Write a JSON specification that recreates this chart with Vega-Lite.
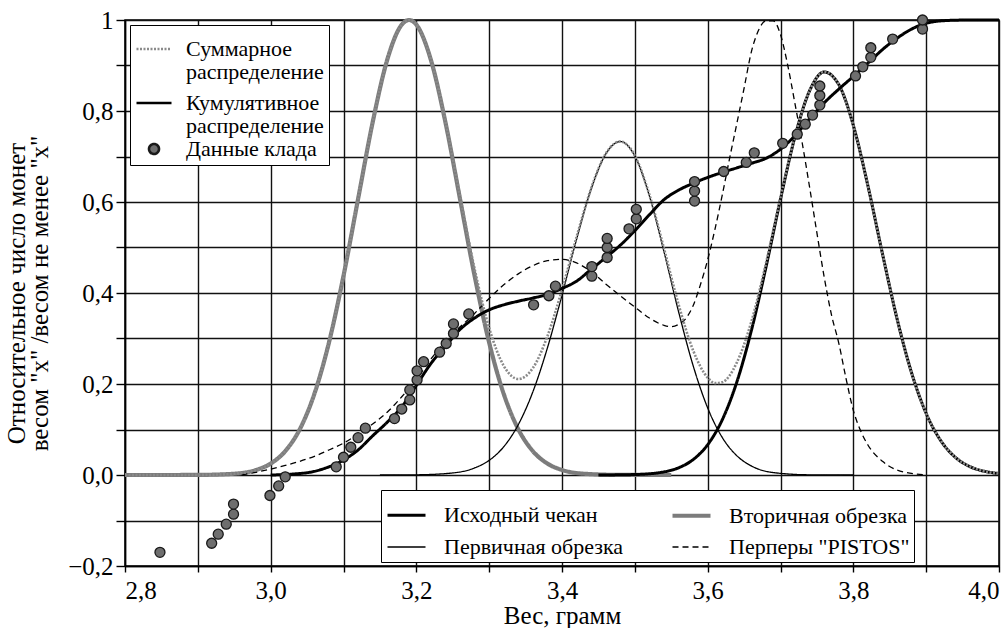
{
  "$schema": "https://vega.github.io/schema/vega-lite/v6.json",
  "width": 874,
  "height": 546,
  "autosize": {"type": "none"},
  "padding": {"left": 125, "top": 20, "right": 6, "bottom": 62},
  "background": "white",
  "config": {
    "font": "Liberation Serif, Times New Roman, serif",
    "view": {"stroke": "black", "strokeWidth": 1.5},
    "axis": {
      "labelFont": "Liberation Serif, Times New Roman, serif", "titleFont": "Liberation Serif, Times New Roman, serif",
      "labelFontSize": 25, "titleFontSize": 25, "titleFontWeight": "normal",
      "labelColor": "black", "titleColor": "black",
      "gridColor": "#111111", "gridWidth": 1.4, "gridOpacity": 1,
      "domainColor": "black", "domainWidth": 1.5, "tickColor": "black", "tickWidth": 1.4
    },
    "legend": {"labelFont": "Liberation Serif, Times New Roman, serif", "labelFontSize": 22, "labelColor": "black"}
  },
  "datasets": {
    "curves": [
      {"w": 2.80, "v": 0, "s": "Вторичная обрезка"},
      {"w": 2.85, "v": 0, "s": "Вторичная обрезка"},
      {"w": 2.90, "v": 0.0002, "s": "Вторичная обрезка"},
      {"w": 2.95, "v": 0.0028, "s": "Вторичная обрезка"},
      {"w": 2.98, "v": 0.0111, "s": "Вторичная обрезка"},
      {"w": 3.00, "v": 0.0251, "s": "Вторичная обрезка"},
      {"w": 3.02, "v": 0.0524, "s": "Вторичная обрезка"},
      {"w": 3.04, "v": 0.1007, "s": "Вторичная обрезка"},
      {"w": 3.06, "v": 0.1783, "s": "Вторичная обрезка"},
      {"w": 3.08, "v": 0.2909, "s": "Вторичная обрезка"},
      {"w": 3.10, "v": 0.4376, "s": "Вторичная обрезка"},
      {"w": 3.12, "v": 0.6065, "s": "Вторичная обрезка"},
      {"w": 3.14, "v": 0.7748, "s": "Вторичная обрезка"},
      {"w": 3.16, "v": 0.9123, "s": "Вторичная обрезка"},
      {"w": 3.18, "v": 0.9898, "s": "Вторичная обрезка"},
      {"w": 3.19, "v": 1.0, "s": "Вторичная обрезка"},
      {"w": 3.20, "v": 0.9898, "s": "Вторичная обрезка"},
      {"w": 3.22, "v": 0.9123, "s": "Вторичная обрезка"},
      {"w": 3.24, "v": 0.7748, "s": "Вторичная обрезка"},
      {"w": 3.26, "v": 0.6065, "s": "Вторичная обрезка"},
      {"w": 3.28, "v": 0.4376, "s": "Вторичная обрезка"},
      {"w": 3.30, "v": 0.2909, "s": "Вторичная обрезка"},
      {"w": 3.32, "v": 0.1783, "s": "Вторичная обрезка"},
      {"w": 3.34, "v": 0.1007, "s": "Вторичная обрезка"},
      {"w": 3.36, "v": 0.0524, "s": "Вторичная обрезка"},
      {"w": 3.38, "v": 0.0251, "s": "Вторичная обрезка"},
      {"w": 3.40, "v": 0.0111, "s": "Вторичная обрезка"},
      {"w": 3.43, "v": 0.0028, "s": "Вторичная обрезка"},
      {"w": 3.48, "v": 0.0002, "s": "Вторичная обрезка"},
      {"w": 3.55, "v": 0, "s": "Вторичная обрезка"},

      {"w": 3.15, "v": 0, "s": "Первичная обрезка"},
      {"w": 3.20, "v": 0.0004, "s": "Первичная обрезка"},
      {"w": 3.25, "v": 0.0045, "s": "Первичная обрезка"},
      {"w": 3.28, "v": 0.0155, "s": "Первичная обрезка"},
      {"w": 3.30, "v": 0.0322, "s": "Первичная обрезка"},
      {"w": 3.32, "v": 0.0621, "s": "Первичная обрезка"},
      {"w": 3.34, "v": 0.1107, "s": "Первичная обрезка"},
      {"w": 3.36, "v": 0.1828, "s": "Первичная обрезка"},
      {"w": 3.38, "v": 0.2794, "s": "Первичная обрезка"},
      {"w": 3.40, "v": 0.3954, "s": "Первичная обрезка"},
      {"w": 3.42, "v": 0.518, "s": "Первичная обрезка"},
      {"w": 3.44, "v": 0.6282, "s": "Первичная обрезка"},
      {"w": 3.46, "v": 0.7052, "s": "Первичная обрезка"},
      {"w": 3.48, "v": 0.733, "s": "Первичная обрезка"},
      {"w": 3.50, "v": 0.701, "s": "Первичная обрезка"},
      {"w": 3.52, "v": 0.6134, "s": "Первичная обрезка"},
      {"w": 3.54, "v": 0.4909, "s": "Первичная обрезка"},
      {"w": 3.56, "v": 0.3593, "s": "Первичная обрезка"},
      {"w": 3.58, "v": 0.2406, "s": "Первичная обрезка"},
      {"w": 3.60, "v": 0.1474, "s": "Первичная обрезка"},
      {"w": 3.62, "v": 0.0826, "s": "Первичная обрезка"},
      {"w": 3.64, "v": 0.0424, "s": "Первичная обрезка"},
      {"w": 3.66, "v": 0.0199, "s": "Первичная обрезка"},
      {"w": 3.69, "v": 0.0054, "s": "Первичная обрезка"},
      {"w": 3.74, "v": 0.0004, "s": "Первичная обрезка"},
      {"w": 3.80, "v": 0, "s": "Первичная обрезка"},

      {"w": 3.45, "v": 0, "s": "Исходный чекан"},
      {"w": 3.50, "v": 0.001, "s": "Исходный чекан"},
      {"w": 3.54, "v": 0.0069, "s": "Исходный чекан"},
      {"w": 3.56, "v": 0.0158, "s": "Исходный чекан"},
      {"w": 3.58, "v": 0.0338, "s": "Исходный чекан"},
      {"w": 3.60, "v": 0.0666, "s": "Исходный чекан"},
      {"w": 3.62, "v": 0.1212, "s": "Исходный чекан"},
      {"w": 3.64, "v": 0.2041, "s": "Исходный чекан"},
      {"w": 3.66, "v": 0.3175, "s": "Исходный чекан"},
      {"w": 3.68, "v": 0.4565, "s": "Исходный чекан"},
      {"w": 3.70, "v": 0.6065, "s": "Исходный чекан"},
      {"w": 3.72, "v": 0.7445, "s": "Исходный чекан"},
      {"w": 3.74, "v": 0.8447, "s": "Исходный чекан"},
      {"w": 3.76, "v": 0.8857, "s": "Исходный чекан"},
      {"w": 3.78, "v": 0.8581, "s": "Исходный чекан"},
      {"w": 3.80, "v": 0.7684, "s": "Исходный чекан"},
      {"w": 3.82, "v": 0.6358, "s": "Исходный чекан"},
      {"w": 3.84, "v": 0.4862, "s": "Исходный чекан"},
      {"w": 3.86, "v": 0.3436, "s": "Исходный чекан"},
      {"w": 3.88, "v": 0.2244, "s": "Исходный чекан"},
      {"w": 3.90, "v": 0.1354, "s": "Исходный чекан"},
      {"w": 3.92, "v": 0.0756, "s": "Исходный чекан"},
      {"w": 3.94, "v": 0.0389, "s": "Исходный чекан"},
      {"w": 3.96, "v": 0.0185, "s": "Исходный чекан"},
      {"w": 3.98, "v": 0.0082, "s": "Исходный чекан"},
      {"w": 4.00, "v": 0.0033, "s": "Исходный чекан"},

      {"w": 2.96, "v": 0, "s": "Перперы \"PISTOS\""},
      {"w": 2.98, "v": 0.006, "s": "Перперы \"PISTOS\""},
      {"w": 3.00, "v": 0.013, "s": "Перперы \"PISTOS\""},
      {"w": 3.02, "v": 0.021, "s": "Перперы \"PISTOS\""},
      {"w": 3.04, "v": 0.03, "s": "Перперы \"PISTOS\""},
      {"w": 3.06, "v": 0.041, "s": "Перперы \"PISTOS\""},
      {"w": 3.08, "v": 0.055, "s": "Перперы \"PISTOS\""},
      {"w": 3.10, "v": 0.07, "s": "Перперы \"PISTOS\""},
      {"w": 3.12, "v": 0.09, "s": "Перперы \"PISTOS\""},
      {"w": 3.14, "v": 0.112, "s": "Перперы \"PISTOS\""},
      {"w": 3.16, "v": 0.138, "s": "Перперы \"PISTOS\""},
      {"w": 3.18, "v": 0.172, "s": "Перперы \"PISTOS\""},
      {"w": 3.20, "v": 0.21, "s": "Перперы \"PISTOS\""},
      {"w": 3.22, "v": 0.255, "s": "Перперы \"PISTOS\""},
      {"w": 3.25, "v": 0.31, "s": "Перперы \"PISTOS\""},
      {"w": 3.28, "v": 0.355, "s": "Перперы \"PISTOS\""},
      {"w": 3.30, "v": 0.388, "s": "Перперы \"PISTOS\""},
      {"w": 3.32, "v": 0.418, "s": "Перперы \"PISTOS\""},
      {"w": 3.34, "v": 0.442, "s": "Перперы \"PISTOS\""},
      {"w": 3.36, "v": 0.46, "s": "Перперы \"PISTOS\""},
      {"w": 3.38, "v": 0.471, "s": "Перперы \"PISTOS\""},
      {"w": 3.40, "v": 0.474, "s": "Перперы \"PISTOS\""},
      {"w": 3.42, "v": 0.466, "s": "Перперы \"PISTOS\""},
      {"w": 3.44, "v": 0.447, "s": "Перперы \"PISTOS\""},
      {"w": 3.46, "v": 0.42, "s": "Перперы \"PISTOS\""},
      {"w": 3.48, "v": 0.394, "s": "Перперы \"PISTOS\""},
      {"w": 3.50, "v": 0.369, "s": "Перперы \"PISTOS\""},
      {"w": 3.52, "v": 0.345, "s": "Перперы \"PISTOS\""},
      {"w": 3.54, "v": 0.329, "s": "Перперы \"PISTOS\""},
      {"w": 3.55, "v": 0.326, "s": "Перперы \"PISTOS\""},
      {"w": 3.56, "v": 0.331, "s": "Перперы \"PISTOS\""},
      {"w": 3.57, "v": 0.344, "s": "Перперы \"PISTOS\""},
      {"w": 3.58, "v": 0.372, "s": "Перперы \"PISTOS\""},
      {"w": 3.59, "v": 0.418, "s": "Перперы \"PISTOS\""},
      {"w": 3.60, "v": 0.473, "s": "Перперы \"PISTOS\""},
      {"w": 3.61, "v": 0.54, "s": "Перперы \"PISTOS\""},
      {"w": 3.62, "v": 0.615, "s": "Перперы \"PISTOS\""},
      {"w": 3.63, "v": 0.695, "s": "Перперы \"PISTOS\""},
      {"w": 3.64, "v": 0.772, "s": "Перперы \"PISTOS\""},
      {"w": 3.65, "v": 0.85, "s": "Перперы \"PISTOS\""},
      {"w": 3.66, "v": 0.93, "s": "Перперы \"PISTOS\""},
      {"w": 3.67, "v": 0.978, "s": "Перперы \"PISTOS\""},
      {"w": 3.68, "v": 0.998, "s": "Перперы \"PISTOS\""},
      {"w": 3.69, "v": 0.998, "s": "Перперы \"PISTOS\""},
      {"w": 3.70, "v": 0.968, "s": "Перперы \"PISTOS\""},
      {"w": 3.71, "v": 0.9, "s": "Перперы \"PISTOS\""},
      {"w": 3.72, "v": 0.815, "s": "Перперы \"PISTOS\""},
      {"w": 3.73, "v": 0.728, "s": "Перперы \"PISTOS\""},
      {"w": 3.74, "v": 0.632, "s": "Перперы \"PISTOS\""},
      {"w": 3.75, "v": 0.532, "s": "Перперы \"PISTOS\""},
      {"w": 3.76, "v": 0.435, "s": "Перперы \"PISTOS\""},
      {"w": 3.77, "v": 0.352, "s": "Перперы \"PISTOS\""},
      {"w": 3.78, "v": 0.29, "s": "Перперы \"PISTOS\""},
      {"w": 3.79, "v": 0.212, "s": "Перперы \"PISTOS\""},
      {"w": 3.80, "v": 0.142, "s": "Перперы \"PISTOS\""},
      {"w": 3.81, "v": 0.097, "s": "Перперы \"PISTOS\""},
      {"w": 3.82, "v": 0.066, "s": "Перперы \"PISTOS\""},
      {"w": 3.84, "v": 0.03, "s": "Перперы \"PISTOS\""},
      {"w": 3.86, "v": 0.011, "s": "Перперы \"PISTOS\""},
      {"w": 3.90, "v": 0, "s": "Перперы \"PISTOS\""}
    ],
    "summed": [
      {"w": 2.80, "v": 0}, {"w": 2.90, "v": 0.0002}, {"w": 2.95, "v": 0.0028}, {"w": 2.98, "v": 0.0111},
      {"w": 3.00, "v": 0.0251}, {"w": 3.02, "v": 0.0524}, {"w": 3.04, "v": 0.1007}, {"w": 3.06, "v": 0.1783},
      {"w": 3.08, "v": 0.2909}, {"w": 3.10, "v": 0.4376}, {"w": 3.12, "v": 0.6065}, {"w": 3.14, "v": 0.7748},
      {"w": 3.16, "v": 0.9123}, {"w": 3.18, "v": 0.9898}, {"w": 3.19, "v": 1.0}, {"w": 3.20, "v": 0.99},
      {"w": 3.22, "v": 0.913}, {"w": 3.24, "v": 0.777}, {"w": 3.26, "v": 0.613}, {"w": 3.28, "v": 0.453},
      {"w": 3.30, "v": 0.323}, {"w": 3.32, "v": 0.240}, {"w": 3.34, "v": 0.211}, {"w": 3.35, "v": 0.217},
      {"w": 3.36, "v": 0.235}, {"w": 3.38, "v": 0.305}, {"w": 3.40, "v": 0.407}, {"w": 3.42, "v": 0.523},
      {"w": 3.44, "v": 0.630}, {"w": 3.46, "v": 0.706}, {"w": 3.48, "v": 0.733}, {"w": 3.50, "v": 0.702},
      {"w": 3.52, "v": 0.616}, {"w": 3.54, "v": 0.498}, {"w": 3.56, "v": 0.375}, {"w": 3.58, "v": 0.274},
      {"w": 3.60, "v": 0.214}, {"w": 3.61, "v": 0.202}, {"w": 3.62, "v": 0.204}, {"w": 3.64, "v": 0.247},
      {"w": 3.66, "v": 0.337}, {"w": 3.68, "v": 0.465}, {"w": 3.70, "v": 0.610}, {"w": 3.72, "v": 0.746},
      {"w": 3.74, "v": 0.845}, {"w": 3.76, "v": 0.886}, {"w": 3.78, "v": 0.858}, {"w": 3.80, "v": 0.768},
      {"w": 3.82, "v": 0.636}, {"w": 3.84, "v": 0.486}, {"w": 3.86, "v": 0.344}, {"w": 3.88, "v": 0.224},
      {"w": 3.90, "v": 0.135}, {"w": 3.92, "v": 0.076}, {"w": 3.94, "v": 0.039}, {"w": 3.96, "v": 0.019},
      {"w": 3.98, "v": 0.008}, {"w": 4.00, "v": 0.003}
    ],
    "cumul": [
      {"w": 3.00, "v": 0.000}, {"w": 3.03, "v": 0.002}, {"w": 3.06, "v": 0.008}, {"w": 3.08, "v": 0.018},
      {"w": 3.10, "v": 0.033}, {"w": 3.12, "v": 0.055}, {"w": 3.14, "v": 0.086}, {"w": 3.16, "v": 0.116},
      {"w": 3.18, "v": 0.150}, {"w": 3.20, "v": 0.197}, {"w": 3.22, "v": 0.245}, {"w": 3.24, "v": 0.283},
      {"w": 3.26, "v": 0.320}, {"w": 3.28, "v": 0.345}, {"w": 3.30, "v": 0.363}, {"w": 3.32, "v": 0.374},
      {"w": 3.34, "v": 0.382}, {"w": 3.36, "v": 0.389}, {"w": 3.38, "v": 0.397}, {"w": 3.40, "v": 0.410},
      {"w": 3.42, "v": 0.426}, {"w": 3.44, "v": 0.452}, {"w": 3.46, "v": 0.478}, {"w": 3.48, "v": 0.505},
      {"w": 3.50, "v": 0.537}, {"w": 3.52, "v": 0.572}, {"w": 3.54, "v": 0.605}, {"w": 3.56, "v": 0.626},
      {"w": 3.58, "v": 0.641}, {"w": 3.60, "v": 0.654}, {"w": 3.62, "v": 0.665}, {"w": 3.64, "v": 0.675},
      {"w": 3.66, "v": 0.685}, {"w": 3.68, "v": 0.696}, {"w": 3.70, "v": 0.716}, {"w": 3.72, "v": 0.746},
      {"w": 3.74, "v": 0.783}, {"w": 3.76, "v": 0.818}, {"w": 3.78, "v": 0.848}, {"w": 3.80, "v": 0.876},
      {"w": 3.82, "v": 0.905}, {"w": 3.84, "v": 0.935}, {"w": 3.86, "v": 0.960}, {"w": 3.88, "v": 0.980},
      {"w": 3.90, "v": 0.993}, {"w": 3.93, "v": 0.999}, {"w": 3.96, "v": 1.000}, {"w": 4.00, "v": 1.000}
    ],
    "hoard": [
      {"w": 2.848, "v": -0.170}, {"w": 2.919, "v": -0.150}, {"w": 2.928, "v": -0.130}, {"w": 2.939, "v": -0.108},
      {"w": 2.949, "v": -0.086}, {"w": 2.949, "v": -0.064}, {"w": 2.999, "v": -0.045}, {"w": 3.011, "v": -0.024},
      {"w": 3.020, "v": -0.004}, {"w": 3.090, "v": 0.018}, {"w": 3.100, "v": 0.039}, {"w": 3.110, "v": 0.061},
      {"w": 3.120, "v": 0.082}, {"w": 3.130, "v": 0.103}, {"w": 3.170, "v": 0.124}, {"w": 3.180, "v": 0.145},
      {"w": 3.191, "v": 0.165}, {"w": 3.191, "v": 0.187}, {"w": 3.201, "v": 0.209}, {"w": 3.201, "v": 0.229},
      {"w": 3.210, "v": 0.249}, {"w": 3.232, "v": 0.270}, {"w": 3.241, "v": 0.289}, {"w": 3.251, "v": 0.311},
      {"w": 3.251, "v": 0.332}, {"w": 3.272, "v": 0.354}, {"w": 3.361, "v": 0.374}, {"w": 3.382, "v": 0.394},
      {"w": 3.391, "v": 0.415}, {"w": 3.441, "v": 0.437}, {"w": 3.441, "v": 0.458}, {"w": 3.462, "v": 0.478},
      {"w": 3.462, "v": 0.500}, {"w": 3.462, "v": 0.520}, {"w": 3.492, "v": 0.541}, {"w": 3.502, "v": 0.563},
      {"w": 3.502, "v": 0.584}, {"w": 3.582, "v": 0.602}, {"w": 3.582, "v": 0.624}, {"w": 3.582, "v": 0.645},
      {"w": 3.622, "v": 0.667}, {"w": 3.653, "v": 0.687}, {"w": 3.664, "v": 0.708}, {"w": 3.703, "v": 0.729},
      {"w": 3.723, "v": 0.749}, {"w": 3.734, "v": 0.771}, {"w": 3.744, "v": 0.791}, {"w": 3.754, "v": 0.813},
      {"w": 3.754, "v": 0.834}, {"w": 3.754, "v": 0.855}, {"w": 3.803, "v": 0.877}, {"w": 3.813, "v": 0.897},
      {"w": 3.824, "v": 0.918}, {"w": 3.824, "v": 0.939}, {"w": 3.854, "v": 0.958}, {"w": 3.895, "v": 0.980},
      {"w": 3.895, "v": 1.000}
    ]
  },
  "encoding": {
    "x": {
      "field": "w", "type": "quantitative",
      "scale": {"domain": [2.8, 4.0], "nice": false, "zero": false},
      "axis": {
        "title": "Вес, грамм", "grid": true, "tickSize": 6, "labelPadding": 6, "titlePadding": 0, "labelFlush": true,
        "values": [2.8, 2.9, 3.0, 3.1, 3.2, 3.3, 3.4, 3.5, 3.6, 3.7, 3.8, 3.9, 4.0],
        "labelExpr": "abs(round(datum.value*10)) % 2 == 1 ? '' : replace(format(datum.value, '.1f'), '.', ',')"
      }
    },
    "y": {
      "field": "v", "type": "quantitative",
      "scale": {"domain": [-0.2, 1.0], "nice": false, "zero": false},
      "axis": {
        "title": ["Относительное число монет", "весом \"x\" /весом не менее \"x\""],
        "grid": true, "tickSize": 9, "labelPadding": 3, "titlePadding": 15, "titleLineHeight": 23,
        "values": [-0.2, -0.1, 0, 0.1, 0.2, 0.3, 0.4, 0.5, 0.6, 0.7, 0.8, 0.9, 1.0],
        "labelExpr": "abs(round(datum.value*10)) % 2 == 1 ? '' : (datum.value == 1 ? '1' : replace(format(datum.value, '.1f'), '.', ','))"
      }
    }
  },
  "resolve": {"scale": {"color": "independent", "strokeWidth": "independent", "strokeDash": "independent", "shape": "independent", "size": "independent"}},
  "layer": [
    {
      "data": {"name": "curves"},
      "mark": {"type": "line", "interpolate": "monotone"},
      "encoding": {
        "color": {
          "field": "s", "type": "nominal",
          "scale": {"domain": ["Исходный чекан", "Вторичная обрезка", "Первичная обрезка", "Перперы \"PISTOS\""], "range": ["#000000", "#7c7c7c", "#000000", "#000000"]},
          "legend": {
            "title": null, "orient": "none", "legendX": 256, "legendY": 470, "columns": 2,
            "values": ["Исходный чекан", "Первичная обрезка", "Вторичная обрезка", "Перперы \"PISTOS\""],
            "columnPadding": 40, "rowPadding": -6, "padding": 4, "strokeColor": "black", "fillColor": "white",
            "symbolSize": 1444, "symbolType": "stroke", "labelOffset": 16, "labelLimit": 400,
            "labelFontSize": 22
          }
        },
        "strokeWidth": {
          "field": "s", "type": "nominal",
          "scale": {"type": "ordinal", "domain": ["Исходный чекан", "Вторичная обрезка", "Первичная обрезка", "Перперы \"PISTOS\""], "range": [3, 4.2, 1.3, 1.3]}
        },
        "strokeDash": {
          "field": "s", "type": "nominal",
          "scale": {"domain": ["Исходный чекан", "Вторичная обрезка", "Первичная обрезка", "Перперы \"PISTOS\""], "range": [[1, 0], [1, 0], [1, 0], [6, 4]]}
        }
      }
    },
    {
      "layer": [
        {
          "data": {"name": "summed"},
          "mark": {"type": "line", "interpolate": "monotone", "strokeWidth": 2.6},
          "encoding": {
            "color": {
              "datum": "Суммарное", "type": "nominal",
              "scale": {"domain": ["Суммарное", "распределение ", "Кумулятивное", "распределение  ", "Данные клада"], "range": ["#8a8a8a", "transparent", "#000000", "transparent", "#1a1a1a"]},
              "legend": {
                "title": null, "orient": "none", "legendX": 5, "legendY": 5, "padding": 5,
                "strokeColor": "black", "fillColor": "white", "rowPadding": 1, "labelOffset": 13,
                "labelLimit": 300, "labelFontSize": 22, "symbolFillColor": "#6e6e6e", "symbolStrokeWidth": 2.6
              }
            },
            "strokeDash": {
              "datum": "Суммарное", "type": "nominal",
              "scale": {"domain": ["Суммарное", "распределение ", "Кумулятивное", "распределение  ", "Данные клада"], "range": [[2, 1.5], [1, 0], [1, 0], [1, 0], [1, 0]]}
            }
          }
        },
        {
          "data": {"name": "cumul"},
          "mark": {"type": "line", "interpolate": "monotone", "strokeWidth": 3},
          "encoding": {
            "color": {"datum": "Кумулятивное", "type": "nominal"},
            "strokeDash": {"datum": "Кумулятивное", "type": "nominal"}
          }
        },
        {
          "data": {"name": "hoard"},
          "mark": {"type": "point", "filled": false, "fill": "#6e6e6e", "fillOpacity": 1, "opacity": 1, "strokeWidth": 1.3},
          "encoding": {
            "color": {"datum": "Данные клада", "type": "nominal"},
            "shape": {
              "datum": "Данные клада", "type": "nominal",
              "scale": {"domain": ["Суммарное", "распределение ", "Кумулятивное", "распределение  ", "Данные клада"], "range": ["stroke", "stroke", "stroke", "stroke", "circle"]}
            },
            "size": {
              "datum": "Данные клада", "type": "nominal",
              "scale": {"type": "ordinal", "domain": ["Суммарное", "распределение ", "Кумулятивное", "распределение  ", "Данные клада"], "range": [1225, 0, 1225, 0, 100]}
            }
          }
        }
      ]
    }
  ]
}
